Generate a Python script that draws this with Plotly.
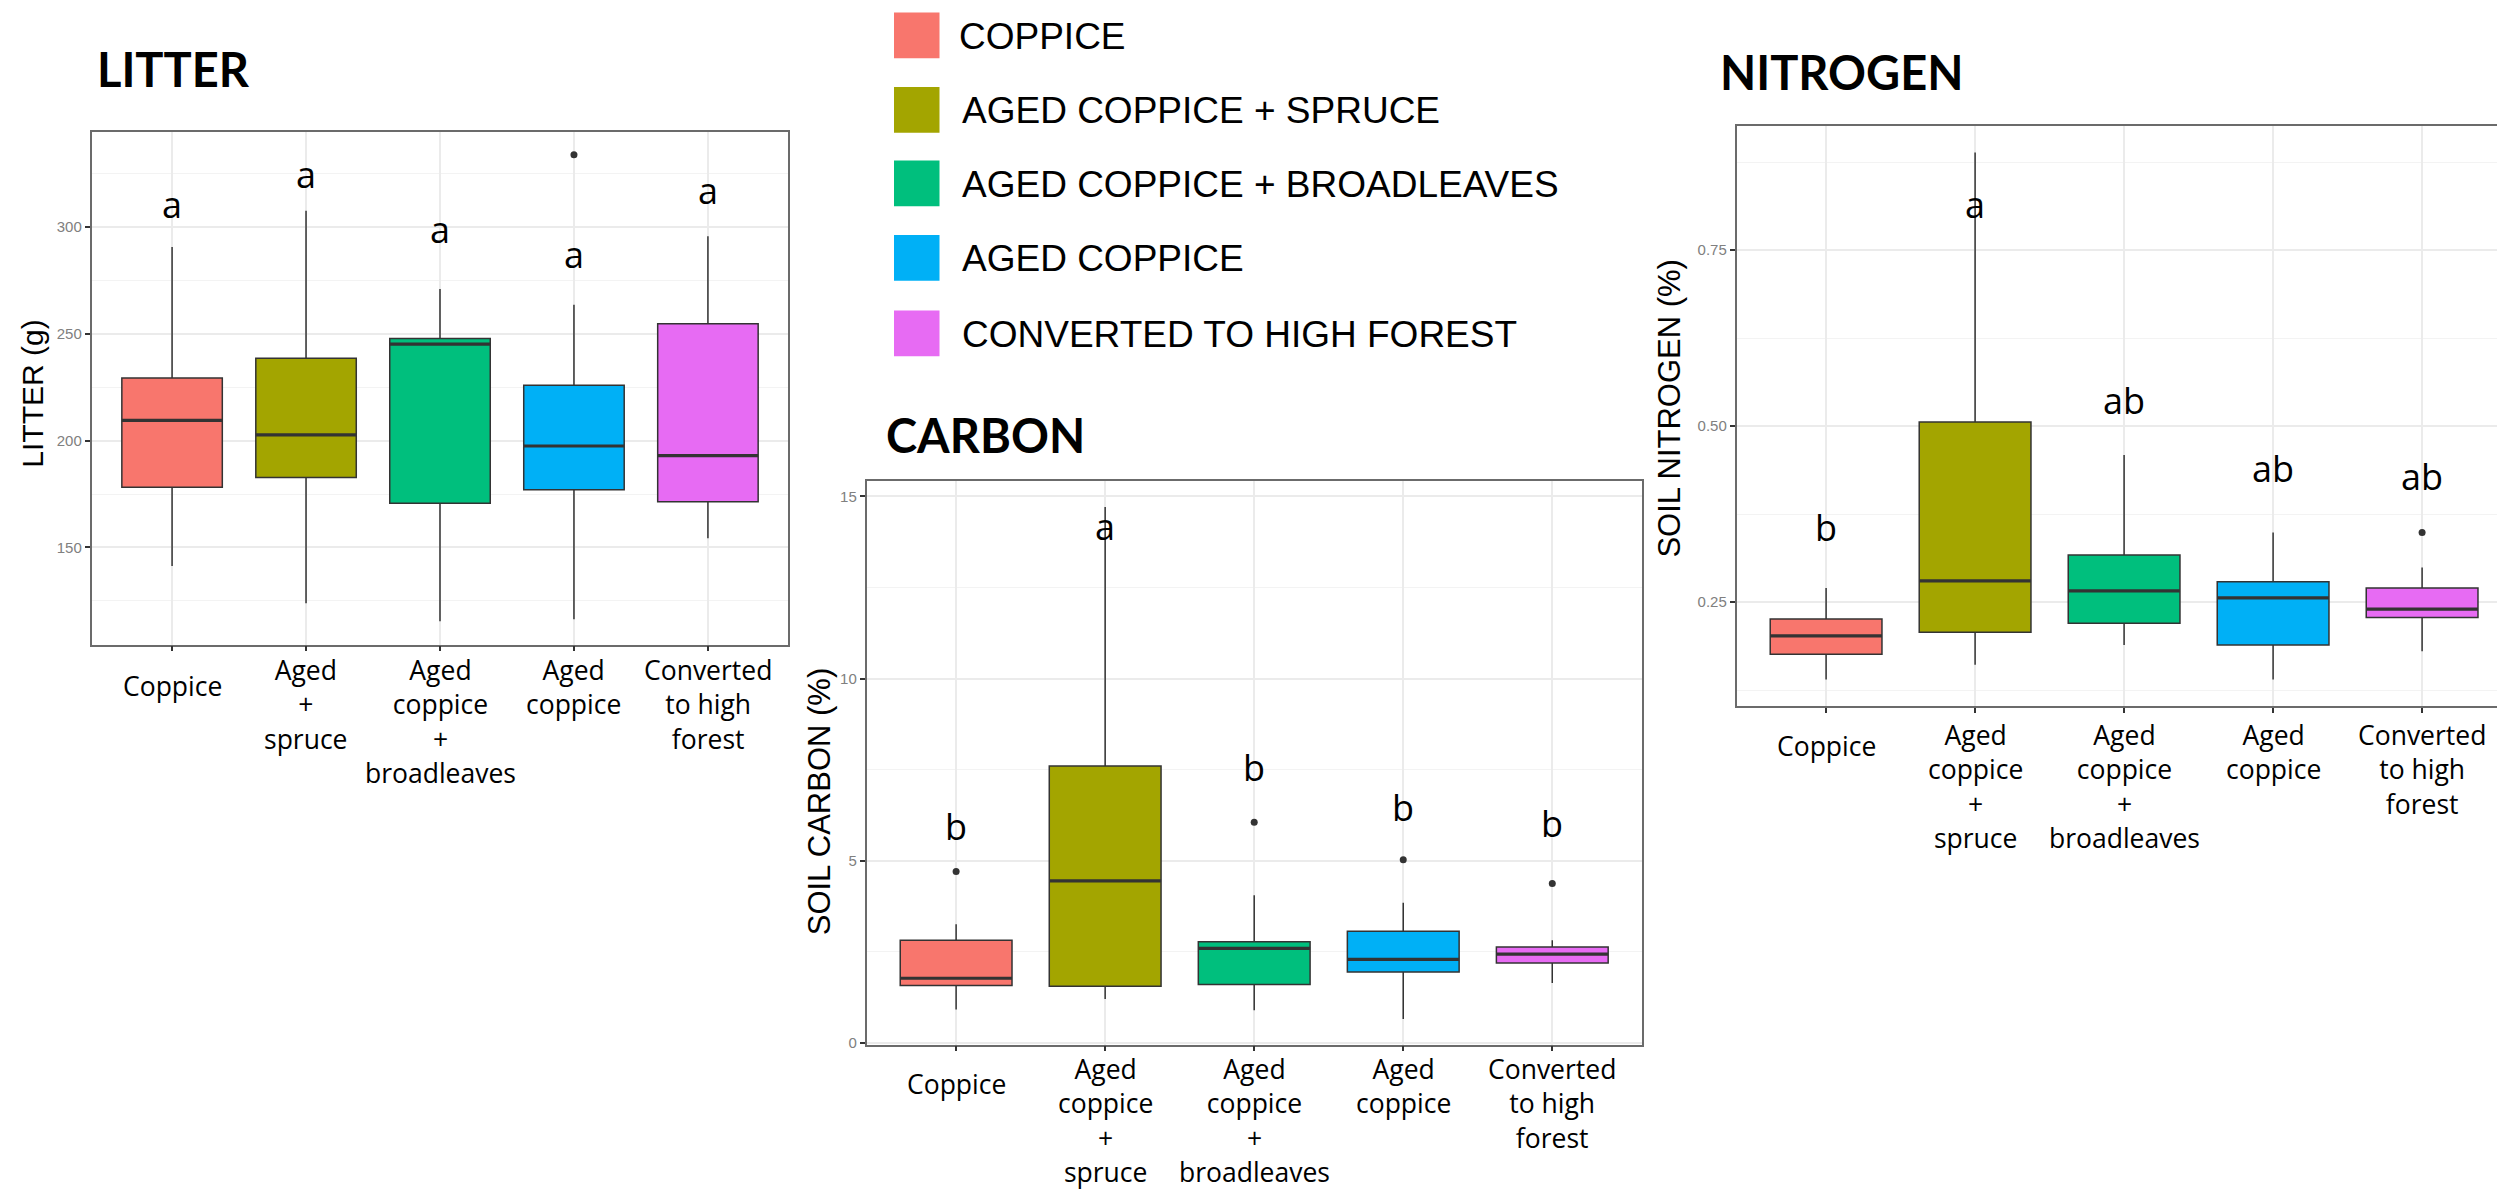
import plotly.graph_objects as go

W, H = 2497, 1199

# ---------------- data ----------------
categories = ["Coppice", "Aged coppice + spruce", "Aged coppice + broadleaves",
              "Aged coppice", "Converted to high forest"]
tick_labels = ["Coppice", "Aged<br>coppice<br>+<br>spruce", "Aged<br>coppice<br>+<br>broadleaves",
               "Aged<br>coppice", "Converted<br>to high<br>forest"]
litter_tick_labels = ["Coppice", "Aged<br>+<br>spruce", "Aged<br>coppice<br>+<br>broadleaves",
                      "Aged<br>coppice", "Converted<br>to high<br>forest"]
legend_labels = ["COPPICE", "AGED COPPICE + SPRUCE", "AGED COPPICE + BROADLEAVES",
                 "AGED COPPICE", "CONVERTED TO HIGH FOREST"]
colors = ["#F8766D", "#A3A500", "#00BF7D", "#00B0F6", "#E76BF3"]

# LITTER (g)
litter_low = [141.3, 123.8, 115.4, 116.3, 154.3]
litter_q1 = [178.2, 182.7, 170.7, 177.0, 171.4]
litter_median = [209.5, 202.7, 245.2, 197.5, 193.0]
litter_q3 = [229.3, 238.6, 247.9, 226.0, 254.8]
litter_high = [290.7, 307.7, 271.0, 263.6, 295.7]
litter_out_cat = ["Aged coppice"]
litter_out_val = [333.9]
litter_letters = ["a", "a", "a", "a", "a"]
litter_letter_y = [303.8, 317.7, 292.1, 280.2, 310.0]
litter_ticks = [150, 200, 250, 300]

# SOIL CARBON (%)
carbon_low = [0.92, 1.21, 0.90, 0.66, 1.65]
carbon_q1 = [1.58, 1.56, 1.61, 1.95, 2.20]
carbon_median = [1.78, 4.45, 2.60, 2.30, 2.44]
carbon_q3 = [2.82, 7.60, 2.78, 3.07, 2.64]
carbon_high = [3.26, 14.71, 4.06, 3.85, 2.82]
carbon_out_cat = ["Coppice", "Aged coppice + broadleaves", "Aged coppice", "Converted to high forest"]
carbon_out_val = [4.71, 6.06, 5.03, 4.38]
carbon_letters = ["b", "a", "b", "b", "b"]
carbon_letter_y = [5.54, 13.75, 7.15, 6.04, 5.61]
carbon_ticks = [0, 5, 10, 15]

# SOIL NITROGEN (%)
nitrogen_low = [0.140, 0.161, 0.189, 0.140, 0.180]
nitrogen_q1 = [0.176, 0.207, 0.220, 0.189, 0.228]
nitrogen_median = [0.202, 0.280, 0.266, 0.256, 0.240]
nitrogen_q3 = [0.226, 0.506, 0.317, 0.279, 0.270]
nitrogen_high = [0.270, 0.889, 0.459, 0.349, 0.299]
nitrogen_out_cat = ["Converted to high forest"]
nitrogen_out_val = [0.349]
nitrogen_letters = ["b", "a", "ab", "ab", "ab"]
nitrogen_letter_y = [0.335, 0.793, 0.515, 0.4185, 0.407]
nitrogen_ticks = [0.25, 0.50, 0.75]


def PX(x):
    return x / W


def PY(y):
    return 1 - y / H


panels = [
    dict(ax="", title="LITTER", title_pos=(95, 88.3), ytitle="LITTER (g)", ytitle_pos=(33, 396), ytitle_size=30,
         frame=(91.7, 132.3, 788.3, 648.3), xr=[-0.6, 4.6], yr=[104.5, 344.8], minor=25, tickfmt="d",
         low=litter_low, q1=litter_q1, med=litter_median, q3=litter_q3, high=litter_high,
         oc=litter_out_cat, ov=litter_out_val, letters=litter_letters, ly=litter_letter_y,
         ticks=litter_ticks, labels=litter_tick_labels, shift_multi=-5, shift_single=-21, right=True),
    dict(ax="2", title="CARBON", title_pos=(884, 456.7), ytitle="SOIL CARBON (%)", ytitle_pos=(819, 806), ytitle_size=31,
         frame=(866.7, 484.3, 1641.7, 1050.7), xr=[-0.6, 4.6], yr=[-0.04, 15.41], minor=2.5, tickfmt="d",
         low=carbon_low, q1=carbon_q1, med=carbon_median, q3=carbon_q3, high=carbon_high,
         oc=carbon_out_cat, ov=carbon_out_val, letters=carbon_letters, ly=carbon_letter_y,
         ticks=carbon_ticks, labels=tick_labels, shift_multi=-4, shift_single=-19, right=True),
    dict(ax="3", title="NITROGEN", title_pos=(1718, 91.7), ytitle="SOIL NITROGEN (%)", ytitle_pos=(1670, 411), ytitle_size=31,
         frame=(1736.7, 126.7, W, 710.0), xr=[-0.6, -0.6 + (W - 1736.7) / 149.0], yr=[0.1025, 0.9266], minor=0.125,
         tickfmt=".2f",
         low=nitrogen_low, q1=nitrogen_q1, med=nitrogen_median, q3=nitrogen_q3, high=nitrogen_high,
         oc=nitrogen_out_cat, ov=nitrogen_out_val, letters=nitrogen_letters, ly=nitrogen_letter_y,
         ticks=nitrogen_ticks, labels=tick_labels, shift_multi=-9, shift_single=-20, right=False),
]

fig = go.Figure()
annotations = []
shapes = []
layout_axes = {}

FRAME_COLOR = "#6b6b6b"
LINE_COLOR = "#333333"
GRID = "#EBEBEB"
GRID_MINOR = "#F3F3F3"

for p in panels:
    xa = "x" + p["ax"]
    ya = "y" + p["ax"]
    for i, cat in enumerate(categories):
        fig.add_trace(go.Box(
            x=[cat], q1=[p["q1"][i]], median=[p["med"][i]], q3=[p["q3"][i]],
            lowerfence=[p["low"][i]], upperfence=[p["high"][i]],
            fillcolor=colors[i], line=dict(color=LINE_COLOR, width=1.5),
            width=0.75, whiskerwidth=0, boxpoints=False,
            xaxis=xa, yaxis=ya, showlegend=False, hoverinfo="skip"))
        # thicker median line (ggplot style)
        fig.add_trace(go.Box(
            x=[cat], q1=[p["med"][i]], median=[p["med"][i]], q3=[p["med"][i]],
            lowerfence=[p["med"][i]], upperfence=[p["med"][i]],
            fillcolor="rgba(0,0,0,0)", line=dict(color=LINE_COLOR, width=3.2),
            width=0.75, whiskerwidth=0, boxpoints=False,
            xaxis=xa, yaxis=ya, showlegend=False, hoverinfo="skip"))
    fig.add_trace(go.Scatter(
        x=p["oc"], y=p["ov"], mode="markers",
        marker=dict(color=LINE_COLOR, size=7), xaxis=xa, yaxis=ya,
        showlegend=False, hoverinfo="skip"))

    fl, ft, fr, fb = p["frame"]
    key = p["ax"]
    layout_axes["xaxis" + key] = dict(
        domain=[PX(fl), PX(fr)], range=p["xr"], type="category",
        categoryorder="array", categoryarray=categories,
        showgrid=True, gridcolor=GRID, gridwidth=1.5,
        showline=True, linecolor=FRAME_COLOR, linewidth=1.8, mirror=True,
        ticks="outside", ticklen=5, tickwidth=1.5, tickcolor=LINE_COLOR,
        showticklabels=False, zeroline=False, anchor=ya, fixedrange=True)
    layout_axes["yaxis" + key] = dict(
        domain=[PY(fb), PY(ft)], range=p["yr"],
        tickmode="array", tickvals=p["ticks"], tickformat=p["tickfmt"],
        tickfont=dict(family="Liberation Sans, Arial, sans-serif", size=15, color="#808080"),
        showgrid=True, gridcolor=GRID, gridwidth=1.5,
        minor=dict(dtick=p["minor"], tick0=0, showgrid=True, gridcolor=GRID_MINOR, gridwidth=1),
        showline=True, linecolor=FRAME_COLOR, linewidth=1.8, mirror=p["right"],
        ticks="outside", ticklen=5, tickwidth=1.5, tickcolor=LINE_COLOR,
        zeroline=False, anchor=xa, fixedrange=True)

    # panel title
    tx, tb = p["title_pos"]
    annotations.append(dict(
        text="<b>" + p["title"] + "</b>", xref="paper", yref="paper",
        x=PX(tx), y=PY(tb), xanchor="left", yanchor="bottom", yshift=-11,
        showarrow=False, font=dict(family="Lato, Open Sans, sans-serif", size=47, color="black")))
    # y axis title
    yx, yy = p["ytitle_pos"]
    annotations.append(dict(
        text=p["ytitle"], xref="paper", yref="paper", x=PX(yx), y=PY(yy),
        xanchor="center", yanchor="middle", textangle=-90, showarrow=False,
        font=dict(family="Liberation Sans, Arial, sans-serif", size=p["ytitle_size"], color="black")))
    # x tick labels
    for i, cat in enumerate(categories):
        lab = p["labels"][i]
        single = "<br>" not in lab
        annotations.append(dict(
            text=lab, xref=xa, yref=ya + " domain", x=cat, y=0,
            xanchor="center", yanchor="top", align="center",
            yshift=p["shift_single"] if single else p["shift_multi"], showarrow=False,
            font=dict(family="Open Sans, sans-serif", size=26.5, color="black")))
    # significance letters
    for i, cat in enumerate(categories):
        annotations.append(dict(
            text=p["letters"][i], xref=xa, yref=ya, x=cat, y=p["ly"][i],
            xanchor="center", yanchor="bottom", yshift=-11.5, showarrow=False,
            font=dict(family="Open Sans, sans-serif", size=36, color="black")))

# ---------------- custom legend ----------------
legend_rows = [35.5, 110.5, 184.5, 259.3, 335.3]
for i, lab in enumerate(legend_labels):
    cy = legend_rows[i]
    shapes.append(dict(type="rect", xref="paper", yref="paper",
                       x0=PX(894), x1=PX(939.5), y0=PY(cy + 23), y1=PY(cy - 23),
                       fillcolor=colors[i], line=dict(width=0)))
    annotations.append(dict(
        text=lab, xref="paper", yref="paper", x=PX(957 if i == 0 else 960), y=PY(cy + 1),
        xanchor="left", yanchor="middle", showarrow=False,
        font=dict(family="Liberation Sans, Arial, sans-serif", size=37, color="black")))

fig.update_layout(
    width=W, height=H, margin=dict(l=0, r=0, t=0, b=0),
    paper_bgcolor="white", plot_bgcolor="white",
    boxmode="overlay", showlegend=False,
    annotations=annotations, shapes=shapes,
    **layout_axes)

fig.write_html("out.html", config={"displayModeBar": False},
               post_script="document.body.style.margin='0';document.body.style.overflow='hidden';")
